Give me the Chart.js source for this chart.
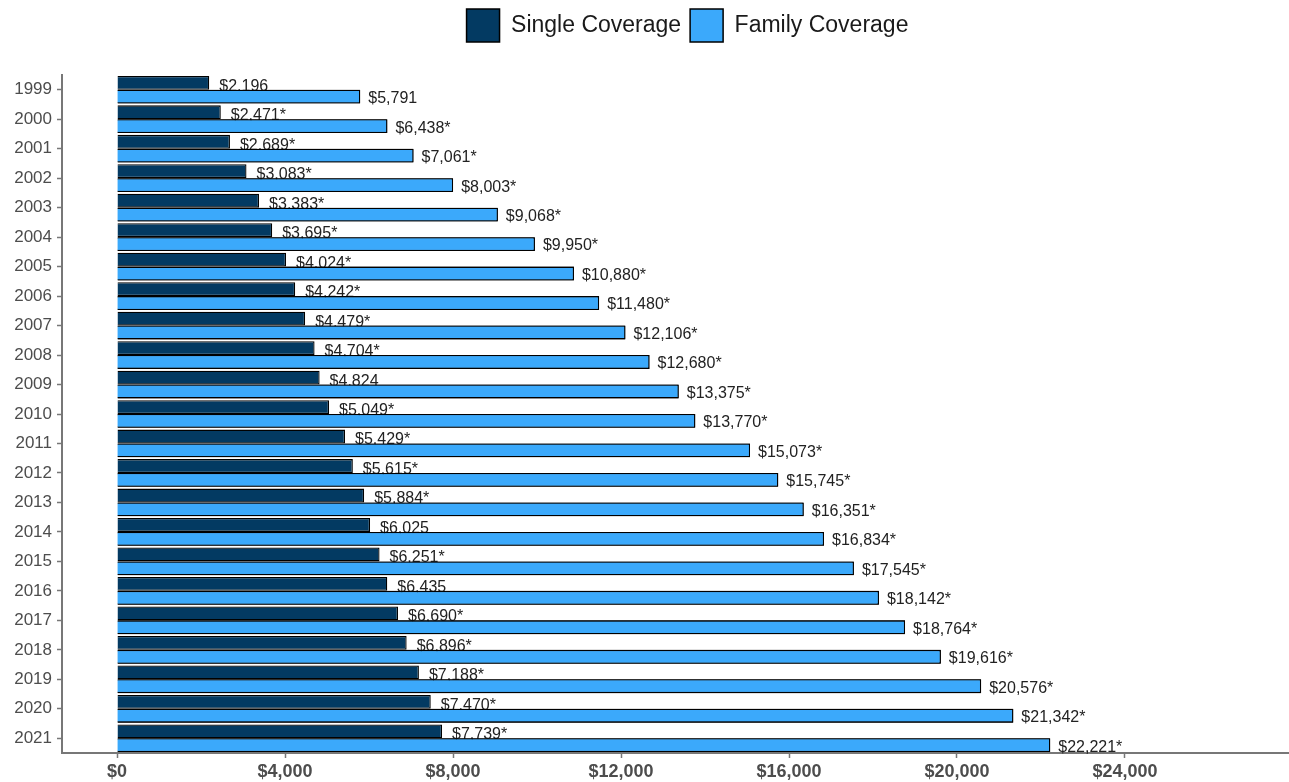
<!DOCTYPE html>
<html>
<head>
<meta charset="utf-8">
<script src="https://cdn.jsdelivr.net/npm/chart.js@4/dist/chart.umd.min.js"></script>
<style>
  body { margin: 0; background: #fff; }
</style>
</head>
<body>
<canvas id="chart" width="1289" height="782"></canvas>
<script>
const years = ["1999", "2000", "2001", "2002", "2003", "2004", "2005", "2006", "2007", "2008", "2009",
  "2010", "2011", "2012", "2013", "2014", "2015", "2016", "2017", "2018", "2019", "2020", "2021"];
const singleCost = [2196, 2471, 2689, 3083, 3383, 3695, 4024, 4242, 4479, 4704, 4824,
  5049, 5429, 5615, 5884, 6025, 6251, 6435, 6690, 6896, 7188, 7470, 7739];
const familyCost = [5791, 6438, 7061, 8003, 9068, 9950, 10880, 11480, 12106, 12680, 13375,
  13770, 15073, 15745, 16351, 16834, 17545, 18142, 18764, 19616, 20576, 21342, 22221];
// asterisk = significant change from previous year
const singleSig = [false, true, true, true, true, true, true, true, true, true, false,
  true, true, true, true, false, true, false, true, true, true, true, true];
const familySig = [false, true, true, true, true, true, true, true, true, true, true,
  true, true, true, true, true, true, true, true, true, true, true, true];
const xTicks = [0, 4000, 8000, 12000, 16000, 20000, 24000];

const FONT = '"Liberation Sans", Arial, sans-serif';
const money = v => "$" + v.toLocaleString("en-US");

const valueLabels = {
  id: "valueLabels",
  beforeLayout(chart) {
    const lg = chart.legend;
    if (lg && !lg._patched) {
      const fit = lg.fit;
      lg.fit = function () {
        fit.call(this);
        this.height = 75;
      };
      lg._patched = true;
    }
  },
  afterLayout(chart) {
    const lg = chart.legend;
    if (lg) {
      lg.left += 43;
      lg.right += 43;
    }
  },
  afterDatasetsDraw(chart) {
    const ctx = chart.ctx;
    const single = chart.getDatasetMeta(0);
    const family = chart.getDatasetMeta(1);
    ctx.save();
    ctx.font = "16px " + FONT;
    ctx.fillStyle = "#222";
    ctx.textAlign = "left";
    ctx.textBaseline = "alphabetic";
    single.data.forEach((bar, i) => {
      const txt = money(singleCost[i]) + (singleSig[i] ? "*" : "");
      ctx.fillText(txt, bar.x + 10, bar.y + bar.height / 2 + 1);
    });
    // family bars go back on top, so the single labels get tucked under them
    family.data.forEach(bar => bar.draw(ctx));
    ctx.fillStyle = "#222";
    ctx.textBaseline = "middle";
    family.data.forEach((bar, i) => {
      const txt = money(familyCost[i]) + (familySig[i] ? "*" : "");
      ctx.fillText(txt, bar.x + 8, bar.y + 2);
    });
    ctx.restore();
  }
};

const ctx = document.getElementById("chart").getContext("2d");
new Chart(ctx, {
  type: "bar",
  data: {
    labels: years,
    datasets: [
      {
        label: "Single Coverage",
        data: singleCost,
        backgroundColor: "#033a62",
        borderColor: "#000",
        borderWidth: 1.3,
      },
      {
        label: "Family Coverage",
        data: familyCost,
        backgroundColor: "#3ba9fb",
        borderColor: "#000",
        borderWidth: 1.3,
      },
    ],
  },
  options: {
    indexAxis: "y",
    responsive: false,
    animation: false,
    devicePixelRatio: 1,
    categoryPercentage: 0.94,
    barPercentage: 1,
    layout: { padding: 0 },
    plugins: {
      tooltip: { enabled: false },
      legend: {
        position: "top",
        labels: {
          font: { family: FONT, size: 23 },
          color: "#1a1a1a",
          boxWidth: 33,
          boxHeight: 33,
          padding: 9,
          generateLabels(chart) {
            const items = Chart.defaults.plugins.legend.labels.generateLabels(chart);
            items.forEach(it => { it.lineWidth = 1.5; });
            return items;
          },
        },
      },
    },
    scales: {
      x: {
        type: "linear",
        min: -1310,
        max: 27905,
        afterBuildTicks: s => { s.ticks = xTicks.map(v => ({ value: v })); },
        afterFit: s => { s.height = 29; },
        grid: { drawOnChartArea: false, drawTicks: true, tickLength: 5, tickColor: "#777", tickWidth: 1.5 },
        border: { display: true, color: "#777", width: 2 },
        ticks: {
          font: { family: FONT, size: 18, weight: "bold" },
          color: "#4d4d4d",
          padding: 3,
          maxRotation: 0,
          callback: v => money(v),
        },
      },
      y: {
        type: "category",
        afterFit: s => { s.width = 62; },
        grid: { offset: false, drawOnChartArea: false, drawTicks: true, tickLength: 5, tickColor: "#777", tickWidth: 1.5 },
        border: { display: true, color: "#777", width: 2 },
        ticks: {
          font: { family: FONT, size: 17 },
          color: "#4d4d4d",
          padding: 5,
          autoSkip: false,
        },
      },
    },
  },
  plugins: [valueLabels],
});
</script>
</body>
</html>
